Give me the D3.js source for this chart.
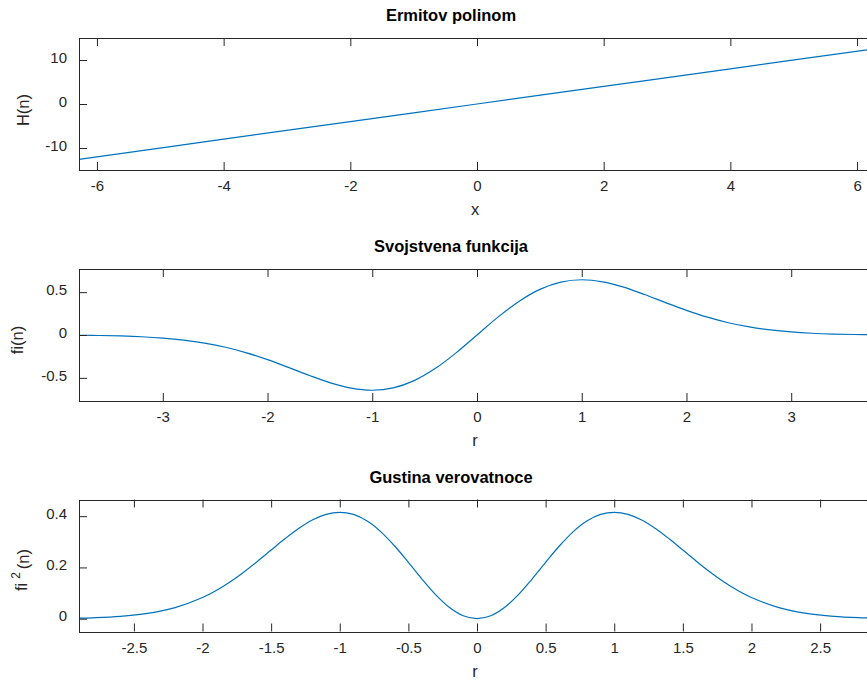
<!DOCTYPE html>
<html>
<head>
<meta charset="utf-8">
<script src="https://cdn.jsdelivr.net/npm/d3@7"></script>
<style>
    body { margin: 0; background: #fff; }
    svg { display: block; font-family: "Liberation Sans", Arial, sans-serif; }
</style>
</head>
<body>
<svg id="chart" width="867" height="684"></svg>
<script>
// Ermitov polinom H(n)
const xH = [-6.2832, -4, -2, 0, 2, 4, 6.2832];
const hVals = [-12.566, -8, -4, 0, 4, 8, 12.566];

// Svojstvena funkcija fi(n)
const rFi = [-3.8, -3.6, -3.4, -3.2, -3.0, -2.8, -2.6, -2.4, -2.2, -2.0, -1.8, -1.6, -1.4, -1.2, -1.0,
    -0.8, -0.6, -0.4, -0.2, 0, 0.2, 0.4, 0.6, 0.8, 1.0, 1.2, 1.4, 1.6, 1.8, 2.0, 2.2, 2.4, 2.6, 2.8,
    3.0, 3.2, 3.4, 3.6, 3.8];
const fiVals = [-0.0030, -0.0059, -0.0112, -0.0203, -0.0354, -0.0590, -0.0940, -0.1431, -0.2078,
    -0.2875, -0.3784, -0.4725, -0.5582, -0.6206, -0.6443, -0.6171, -0.5324, -0.3922, -0.2083, 0,
    0.2083, 0.3922, 0.5324, 0.6171, 0.6443, 0.6206, 0.5582, 0.4725, 0.3784, 0.2875, 0.2078, 0.1431,
    0.0940, 0.0590, 0.0354, 0.0203, 0.0112, 0.0059, 0.0030];

// Gustina verovatnoce fi^2(n)
const rFi2 = [-2.9, -2.8, -2.6, -2.4, -2.2, -2.0, -1.9, -1.8, -1.7, -1.6, -1.5, -1.4, -1.3, -1.2, -1.1,
    -1.0, -0.9, -0.8, -0.7, -0.6, -0.5, -0.4, -0.3, -0.2, -0.1, 0, 0.1, 0.2, 0.3, 0.4, 0.5, 0.6, 0.7,
    0.8, 0.9, 1.0, 1.1, 1.2, 1.3, 1.4, 1.5, 1.6, 1.7, 1.8, 1.9, 2.0, 2.2, 2.4, 2.6, 2.8, 2.9];
const fi2Vals = [0.0021, 0.0035, 0.0088, 0.0205, 0.0432, 0.0827, 0.1102, 0.1432, 0.1812, 0.2233,
    0.2677, 0.3116, 0.3520, 0.3851, 0.4072, 0.4151, 0.4067, 0.3808, 0.3388, 0.2835, 0.2197, 0.1538,
    0.0928, 0.0434, 0.0112, 0, 0.0112, 0.0434, 0.0928, 0.1538, 0.2197, 0.2835, 0.3388, 0.3808, 0.4067,
    0.4151, 0.4072, 0.3851, 0.3520, 0.3116, 0.2677, 0.2233, 0.1812, 0.1432, 0.1102, 0.0827, 0.0432,
    0.0205, 0.0088, 0.0035, 0.0021];

// tick values
const xTicksH = [-6, -4, -2, 0, 2, 4, 6];
const yTicksH = [-10, 0, 10];
const xTicksFi = [-3, -2, -1, 0, 1, 2, 3];
const yTicksFi = [-0.5, 0, 0.5];
const xTicksFi2 = [-2.5, -2, -1.5, -1, -0.5, 0, 0.5, 1, 1.5, 2, 2.5];
const yTicksFi2 = [0, 0.2, 0.4];

const svg = d3.select('#chart');
const left = 79, right = 875;
const axisColor = '#262626';
const lineColor = '#0072BD';

const panels = [
    { title: 'Ermitov polinom', xLabel: 'x', yLabel: 'H(n)', top: 38, bottom: 170,
      xDomain: [-6.2832, 6.2832], yDomain: [-15, 15], xs: xH, ys: hVals,
      xTicks: xTicksH, yTicks: yTicksH, yLabelX: 28.5, yLabelY: 110 },
    { title: 'Svojstvena funkcija', xLabel: 'r', yLabel: 'fi(n)', top: 269, bottom: 401,
      xDomain: [-3.8, 3.8], yDomain: [-0.77, 0.77], xs: rFi, ys: fiVals,
      xTicks: xTicksFi, yTicks: yTicksFi, yLabelX: 23, yLabelY: 340 },
    { title: 'Gustina verovatnoce', xLabel: 'r', yLabel: 'fi2', top: 499.5, bottom: 631.5,
      xDomain: [-2.9, 2.9], yDomain: [-0.05, 0.465], xs: rFi2, ys: fi2Vals,
      xTicks: xTicksFi2, yTicks: yTicksFi2, yLabelX: 27, yLabelY: 570 }
];

function drawPanel(p, idx) {
    const x = d3.scaleLinear().domain(p.xDomain).range([left, right]);
    const y = d3.scaleLinear().domain(p.yDomain).range([p.bottom, p.top]);
    const g = svg.append('g');
    const fmt = d => String(d);

    // clip for the curve
    svg.append('clipPath').attr('id', 'clip' + idx)
        .append('rect')
        .attr('x', left).attr('y', p.top)
        .attr('width', right - left).attr('height', p.bottom - p.top);

    const data = p.xs.map((v, i) => [v, p.ys[i]]);
    g.append('path')
        .datum(data)
        .attr('clip-path', `url(#clip${idx})`)
        .attr('fill', 'none')
        .attr('stroke', lineColor)
        .attr('stroke-width', 1.2)
        .attr('d', d3.line().x(d => x(d[0])).y(d => y(d[1])).curve(d3.curveCatmullRom));

    // axes, ticks pointing inside
    g.append('g').attr('transform', `translate(0,${p.bottom})`)
        .call(d3.axisBottom(x).tickValues(p.xTicks).tickSize(-8).tickSizeOuter(0).tickPadding(10.5).tickFormat(fmt));
    g.append('g').attr('transform', `translate(0,${p.top})`)
        .call(d3.axisTop(x).tickValues(p.xTicks).tickSize(-8).tickSizeOuter(0).tickFormat(''));
    g.append('g').attr('transform', `translate(${left},0)`)
        .call(d3.axisLeft(y).tickValues(p.yTicks).tickSize(-8).tickSizeOuter(0).tickPadding(12).tickFormat(fmt));
    g.append('g').attr('transform', `translate(${right},0)`)
        .call(d3.axisRight(y).tickValues(p.yTicks).tickSize(-8).tickSizeOuter(0).tickFormat(''));

    g.selectAll('.domain').remove();
    g.selectAll('.tick line').attr('stroke', axisColor);
    g.selectAll('.tick text')
        .attr('fill', axisColor)
        .attr('font-size', '15px')
        .attr('font-family', '"Liberation Sans", Arial, sans-serif');
    g.selectAll('.tick text').filter(function() { return this.getAttribute('x') !== null && +this.getAttribute('x') < 0; })
        .attr('dy', '0.15em');

    // box
    g.append('rect')
        .attr('x', left + 0.5).attr('y', Math.round(p.top) + 0.5)
        .attr('width', right - left).attr('height', Math.round(p.bottom) - Math.round(p.top))
        .attr('fill', 'none')
        .attr('stroke', axisColor)
        .attr('stroke-width', 1);

    // title
    g.append('text')
        .attr('x', 451).attr('y', p.top - 17)
        .attr('text-anchor', 'middle')
        .attr('font-size', '16.5px')
        .attr('font-weight', 'bold')
        .attr('fill', '#000')
        .text(p.title);

    // x label
    g.append('text')
        .attr('x', 475).attr('y', p.bottom + 45)
        .attr('text-anchor', 'middle')
        .attr('font-size', '16.5px')
        .attr('fill', axisColor)
        .text(p.xLabel);

    // y label
    const yl = g.append('text')
        .attr('transform', `translate(${p.yLabelX},${p.yLabelY}) rotate(-90)`)
        .attr('text-anchor', 'middle')
        .attr('font-size', '16.5px')
        .attr('fill', axisColor);
    if (p.yLabel === 'fi2') {
        yl.append('tspan').text('fi');
        yl.append('tspan').attr('dx', 4).attr('dy', -7).attr('font-size', '12px').text('2');
        yl.append('tspan').attr('dx', 3).attr('dy', 9).text('(n)');
    } else {
        yl.text(p.yLabel);
    }
}

panels.forEach(drawPanel);
</script>
</body>
</html>
